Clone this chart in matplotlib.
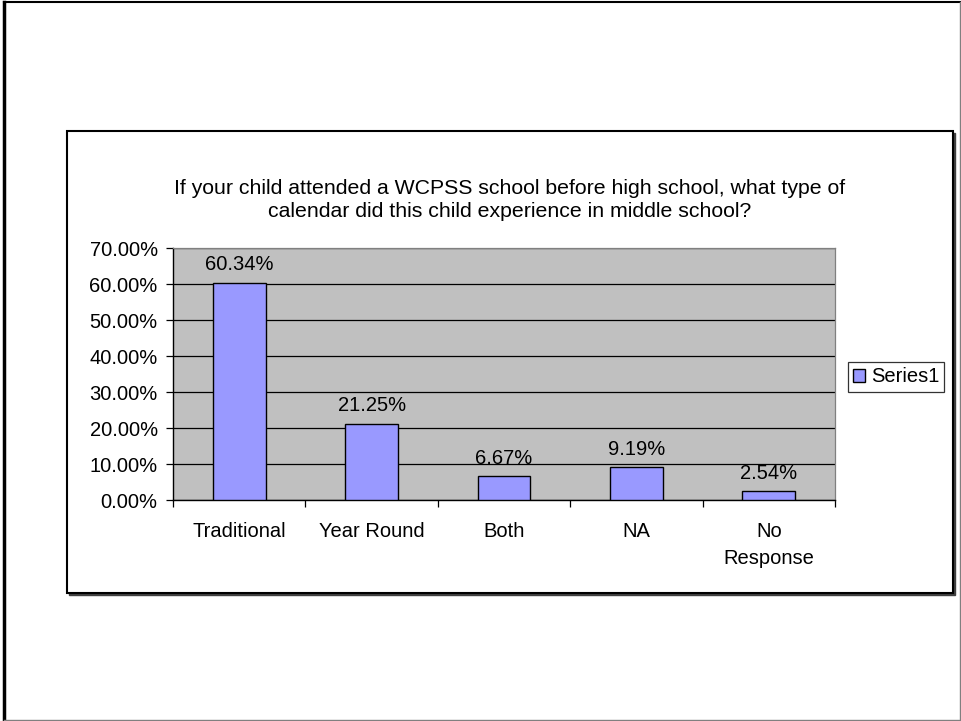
import matplotlib
matplotlib.use("Agg")
import matplotlib.pyplot as plt
from matplotlib.patches import Rectangle
from matplotlib.lines import Line2D
import numpy as np

# Survey answers (share of respondents)
categories = ["Traditional", "Year Round", "Both", "NA", "No\nResponse"]
values = [60.34, 21.25, 6.67, 9.19, 2.54]
value_labels = ["60.34%", "21.25%", "6.67%", "9.19%", "2.54%"]
y_ticks = [0, 10, 20, 30, 40, 50, 60, 70]
y_tick_labels = ["%.2f%%" % t for t in y_ticks]
title = ("If your child attended a WCPSS school before high school, what type of\n"
         "calendar did this child experience in middle school?")
series_name = "Series1"

plt.rcParams['font.family'] = ['Liberation Sans', 'DejaVu Sans']
FS = 14.5

fig = plt.figure(figsize=(9.61, 7.21), dpi=100, facecolor='white')
W, H = 961.0, 721.0

# outer slide border
fig.add_artist(Line2D([4 / W, 4 / W], [0, 1 - 2 / H], color='black', lw=2.5, transform=fig.transFigure))
fig.add_artist(Line2D([4 / W, 960 / W], [1 - 2 / H, 1 - 2 / H], color='black', lw=1.5, transform=fig.transFigure))
fig.add_artist(Line2D([960 / W, 960 / W], [1 / H, 1 - 2 / H], color='#808080', lw=1, transform=fig.transFigure))
fig.add_artist(Line2D([4 / W, 960 / W], [1 / H, 1 / H], color='#808080', lw=1, transform=fig.transFigure))

# chart frame with shadow
fx, fy, fw, fh = 67 / W, 1 - 593 / H, (953 - 67) / W, (593 - 131) / H
fig.add_artist(Rectangle((fx + 2 / W, fy - 2 / H), fw, fh, transform=fig.transFigure,
                         facecolor='#404040', edgecolor='#404040', lw=1, zorder=-2))
fig.add_artist(Rectangle((fx, fy), fw, fh, transform=fig.transFigure,
                         facecolor='white', edgecolor='black', lw=1.5, zorder=-1))

fig.text(510 / W, 1 - 200 / H, title, ha='center', va='center', fontsize=15.3, linespacing=1.3)

ax = fig.add_axes([173 / W, 1 - 500 / H, (835 - 173) / W, (500 - 248) / H])
ax.set_facecolor('#C0C0C0')
x = np.arange(len(categories))
bars = ax.bar(x, values, width=0.4, color='#9999FF', edgecolor='black', linewidth=1, zorder=3,
              label=series_name)

for b, lab in zip(bars, value_labels):
    ax.annotate(lab, (b.get_x() + b.get_width() / 2, b.get_height()), xytext=(0, 6),
                textcoords='offset points', ha='center', va='bottom', fontsize=FS)

ax.set_ylim(0, 70)
ax.set_xlim(-0.5, len(categories) - 0.5)
ax.set_yticks(y_ticks)
ax.set_yticklabels(y_tick_labels, fontsize=FS)
ax.yaxis.grid(True, color='black', lw=0.9, zorder=1)
ax.set_axisbelow(True)

ax.set_xticks(x)
ax.set_xticklabels(categories, fontsize=FS, linespacing=1.5)
ax.set_xticks(np.arange(len(categories) + 1) - 0.5, minor=True)
ax.tick_params(axis='x', which='major', length=0, pad=16)
ax.tick_params(axis='x', which='minor', length=5, width=0.9, direction='out')
ax.tick_params(axis='y', length=5, width=0.9, direction='out', pad=6)

for s in ['top', 'right']:
    ax.spines[s].set_color('#808080')
    ax.spines[s].set_linewidth(0.9)
for s in ['left', 'bottom']:
    ax.spines[s].set_color('black')
    ax.spines[s].set_linewidth(1)

leg = fig.legend(loc='center', bbox_to_anchor=(896 / W, 1 - 377 / H), frameon=True, fancybox=False,
                 edgecolor='black', fontsize=FS, handlelength=0.6, handleheight=0.6,
                 handletextpad=0.3, borderpad=0.25, borderaxespad=0)
leg.get_frame().set_linewidth(0.9)

fig.savefig('out.png', dpi=100, facecolor='white')
